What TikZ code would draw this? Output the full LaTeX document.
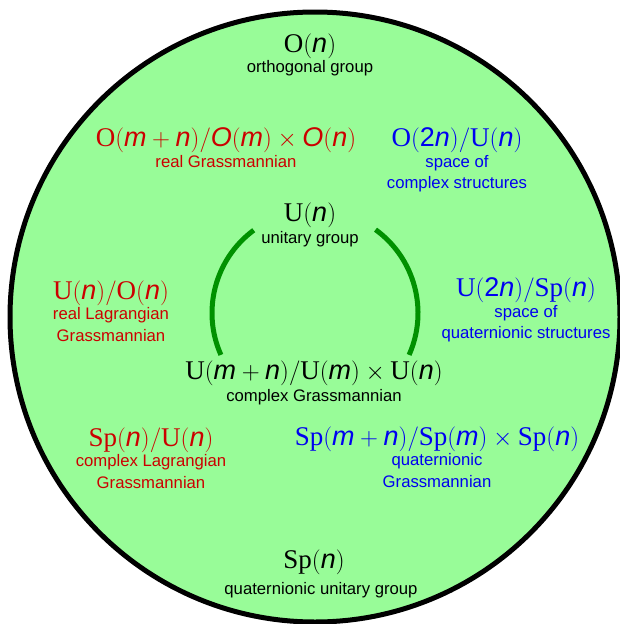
\documentclass[tikz,border=0pt]{standalone}
\usepackage{fontspec}
\setmainfont{Liberation Serif}
\setsansfont{Liberation Sans}
\usetikzlibrary{positioning}
\definecolor{grpred}{RGB}{204,0,0}
\definecolor{grpblue}{RGB}{0,0,240}
\definecolor{grpgreen}{RGB}{0,145,0}
\definecolor{discfill}{RGB}{152,252,152}
\newcommand{\vn}[1]{\textsf{\textit{#1}}}

\begin{document}
\begin{tikzpicture}[x=1pt, y=1pt,
    grp/.style={inner sep=0pt, font=\fontsize{27}{29}\selectfont},
    desc/.style={inner sep=0pt, align=center, font=\sffamily\fontsize{16.7}{21.5}\selectfont},
    arcline/.style={line width=5pt, color=grpgreen},
    node distance=2pt
  ]
    \useasboundingbox (0,0) rectangle (619,-624);
    \draw[line width=5pt, fill=discfill] (315,-317) circle [radius=305pt];

    % top and bottom groups
    \node[grp]                      (on)     at (310,-46)  {$\mathrm{O}(\vn{n})$};
    \node[desc, below=of on]        (onlab)                {orthogonal group};
    \node[grp]                      (un)     at (310,-215) {$\mathrm{U}(\vn{n})$};
    \node[desc, below=4pt of un]    (unlab)                {unitary group};
    \node[grp]                      (ugr)    at (314,-373) {$\mathrm{U}(\vn{m}+\vn{n})/\mathrm{U}(\vn{m})\times\mathrm{U}(\vn{n})$};
    \node[desc, below=4pt of ugr]   (ugrlab)               {complex Grassmannian};
    \node[grp]                      (spn)    at (314,-562) {$\mathrm{Sp}(\vn{n})$};
    \node[desc, below=8pt of spn, xshift=7pt] (spnlab)     {quaternionic unitary group};

    % left column (red)
    \begin{scope}[every node/.append style={color=grpred}]
      \node[grp]                    (ogr)    at (226,-140) {$\mathrm{O}(\vn{m}+\vn{n})/\vn{O}(\vn{m})\times\vn{O}(\vn{n})$};
      \node[desc, below=of ogr]     (ogrlab)               {real Grassmannian};
      \node[grp]                    (uo)     at (111,-293) {$\mathrm{U}(\vn{n})/\mathrm{O}(\vn{n})$};
      \node[desc, below=of uo]      (uolab)                {real Lagrangian\\Grassmannian};
      \node[grp]                    (spu)    at (151,-440) {$\mathrm{Sp}(\vn{n})/\mathrm{U}(\vn{n})$};
      \node[desc, below=of spu]     (spulab)               {complex Lagrangian\\Grassmannian};
    \end{scope}

    % right column (blue)
    \begin{scope}[every node/.append style={color=grpblue}]
      \node[grp]                    (ou)     at (457,-140) {$\mathrm{O}(\textsf{2}\vn{n})/\mathrm{U}(\vn{n})$};
      \node[desc, below=of ou]      (oulab)                {space of\\complex structures};
      \node[grp]                    (usp)    at (526,-290) {$\mathrm{U}(\textsf{2}\vn{n})/\mathrm{Sp}(\vn{n})$};
      \node[desc, below=of usp]     (usplab)               {space of\\quaternionic structures};
      \node[grp]                    (spgr)   at (437,-439) {$\mathrm{Sp}(\vn{m}+\vn{n})/\mathrm{Sp}(\vn{m})\times\mathrm{Sp}(\vn{n})$};
      \node[desc, below=of spgr]    (spgrlab)              {quaternionic\\Grassmannian};
    \end{scope}

    % green arcs round the unitary group
    \coordinate (hub) at (315,-313);
    \draw[arcline] ([shift={(126.5:103pt)}]hub) arc[start angle=126.5, end angle=204, radius=103pt];
    \draw[arcline] ([shift={(54:103pt)}]hub) arc[start angle=54, end angle=-24, radius=103pt];
\end{tikzpicture}
\end{document}
